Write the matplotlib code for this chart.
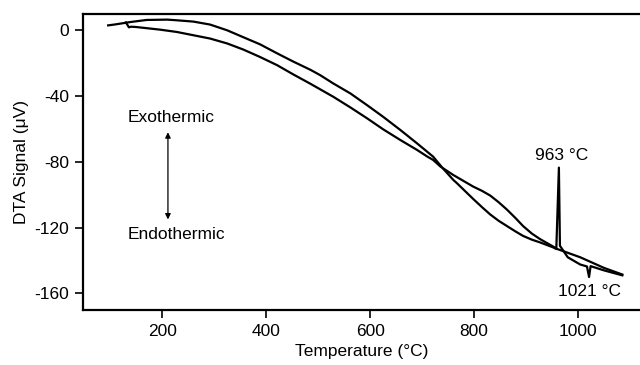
import matplotlib
matplotlib.use("Agg")
import matplotlib.pyplot as plt

plt.rcParams['font.family'] = ['Liberation Sans', 'DejaVu Sans']
plt.rcParams['axes.unicode_minus'] = False

# heating run (starts at ~96 C, crystallisation spike at 963, dip at 1021)
t_heat = [96, 110, 138, 170, 210, 228, 260, 292, 325, 356, 388, 421, 452, 485,
          504, 529, 562, 594, 625, 658, 690, 721, 740, 760, 767, 798, 815,
          831, 847, 863, 879, 894, 911, 927, 952, 958, 963, 965, 980, 1004,
          1017, 1021, 1024, 1050, 1085]
v_heat = [3.0, 3.6, 5.0, 6.3, 6.5, 6.1, 5.3, 3.5, 0.0, -4.2, -8.5, -14.0,
          -19.0, -24.0, -27.3, -32.3, -38.4, -45.5, -52.6, -60.6, -68.7, -76.8,
          -84.0, -91.0, -93.0, -102.5, -107.5, -112.0, -115.8, -119.0, -122.2,
          -125.0, -127.3, -129.0, -132.0, -133.0, -83.5, -131.0, -138.0,
          -142.4, -143.6, -150.0, -143.4, -146.0, -149.0]

# cooling run
t_cool = [130, 136, 140, 150, 196, 228, 260, 292, 325, 356, 388, 421, 452,
          485, 529, 562, 594, 625, 658, 690, 710, 721, 735, 760, 798, 815,
          831, 847, 863, 879, 894, 911, 927, 952, 960, 1004, 1050, 1085]
v_cool = [4.8, 1.8, 2.2, 2.0, 0.4, -1.0, -3.0, -5.0, -8.0, -11.7, -16.2,
          -21.2, -26.8, -32.5, -40.4, -46.9, -53.5, -60.2, -66.7, -72.7, -76.8,
          -78.8, -82.8, -88.0, -95.0, -97.6, -100.5, -104.5, -109.0, -114.0,
          -119.0, -123.6, -127.0, -131.5, -133.0, -138.0, -144.5, -148.5]

xticks = [200, 400, 600, 800, 1000]
yticks = [0, -40, -80, -120, -160]

fig = plt.figure(figsize=(6.4, 3.65), dpi=100)
ax = fig.add_axes([0.13, 0.151, 0.87, 0.811])

ax.plot(t_heat, v_heat, color='black', lw=1.6)
ax.plot(t_cool, v_cool, color='black', lw=1.6)

ax.set_xlim(48, 1119)
ax.set_ylim(-170, 10)
ax.set_xticks(xticks)
ax.set_yticks(yticks)
ax.tick_params(direction='out', length=6, width=1.2, labelsize=12.5, pad=4)
for s in ['left', 'bottom', 'top']:
    ax.spines[s].set_linewidth(1.6)
ax.spines['right'].set_visible(False)

ax.set_xlabel('Temperature (°C)', fontsize=12.5)
ax.set_ylabel('DTA Signal (μV)', fontsize=12.5)

ax.text(133, -53, 'Exothermic', fontsize=12.5, ha='left', va='center')
ax.text(133, -124, 'Endothermic', fontsize=12.5, ha='left', va='center')
ax.annotate('', xy=(211, -62), xytext=(211, -115),
            arrowprops=dict(arrowstyle='<|-|>', color='black', lw=0.9,
                            mutation_scale=8, shrinkA=0, shrinkB=0))

ax.text(969, -76, '963 °C', fontsize=12.5, ha='center', va='center')
ax.text(1022, -158.6, '1021 °C', fontsize=12.5, ha='center', va='center')

fig.savefig('out.png', dpi=100)
